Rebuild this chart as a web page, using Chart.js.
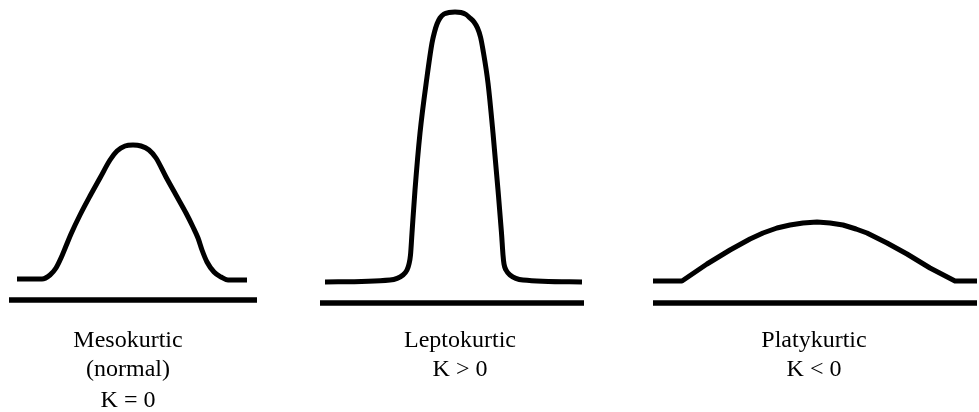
<!DOCTYPE html>
<html>
<head>
<meta charset="utf-8">
<script src="https://cdn.jsdelivr.net/npm/chart.js@4/dist/chart.umd.min.js"></script>
<style>
html,body{margin:0;padding:0;background:#fff;}
#wrap{width:979px;height:412px;}
</style>
</head>
<body>
<div id="wrap"><canvas id="kurtChart" width="979" height="412"></canvas></div>
<script>
//mesokurtic curve
var mesoX=[17,42,50,56,61,66,71,80,90,100,110,117,125,133,141,149,156,166,176,186,193,198,202,207,214,221,228,247];
var mesoY=[133,133,137,144,154,166,178,197,216,234,252,261,266,267,266,262,254,235,217,199,185,174,162,150,140,135,132,132];
//leptokurtic curve
var leptoX=[325,390,403,407,409,410.5,412,415,420,427,432,434.5,437,440,444,449,455,461,466,470,474,477.5,480.5,483,488,493,498,501.5,503,504,506,510,523,582];
var leptoY=[130,132,137,142,148,157,179,222,279,335,369,380,388,394,398,399.5,400,399.5,397.5,394,390,384,375,362,329,279,222,179,157,148,142,137,132,130];
//platykurtic curve
var platyX=[653,682,707,730,750,763,777,790,803,817,830,843,856,867,887,907,930,955,977];
var platyY=[131,131,148,162,173,179,184,187,189,190,189,187,183,179,169,158,144,131,131];
//axis lines under each curve
var axisX=[[9,257],[320,584],[653,977]];
var axisY=[112,109,109];
//captions
var captions=[
	['Mesokurtic','(normal)','K = 0'],
	['Leptokurtic','K > 0'],
	['Platykurtic','K < 0']
];

function toPoints(xs,ys){
	var pts=[];
	for(var i=0;i<xs.length;i++){
		pts.push({x:xs[i],y:ys[i]});
	}
	return pts;
}

function curveSet(xs,ys,mode){
	var ds={
		data:toPoints(xs,ys),
		showLine:true,
		borderColor:'#000',
		borderWidth:5,
		pointRadius:0,
		fill:false,
		borderCapStyle:'butt',
		borderJoinStyle:'round'
	};
	if(mode=='monotone'){
		ds.cubicInterpolationMode='monotone';
	}else{
		ds.tension=0;
	}
	return ds;
}

var datasets=[
	curveSet(mesoX,mesoY,'monotone'),
	curveSet(leptoX,leptoY,'monotone'),
	curveSet(platyX,platyY,'straight')
];
for(var i=0;i<axisX.length;i++){
	datasets.push({
		data:[{x:axisX[i][0],y:axisY[i]},{x:axisX[i][1],y:axisY[i]}],
		showLine:true,
		borderColor:'#000',
		borderWidth:5.5,
		pointRadius:0,
		tension:0,
		borderCapStyle:'butt'
	});
}

//captions under each axis line
var captionPlugin={
	id:'captions',
	afterDraw:function(chart){
		var c=chart.ctx;
		var xs=chart.scales.x;
		var centers=[128,460,814];
		var rows=[347,376,407];
		c.save();
		c.fillStyle='#000';
		c.font='24px "Liberation Serif", "Times New Roman", serif';
		c.textAlign='center';
		c.textBaseline='alphabetic';
		for(var i=0;i<captions.length;i++){
			var px=xs.getPixelForValue(centers[i]);
			for(var j=0;j<captions[i].length;j++){
				c.fillText(captions[i][j],px,rows[j]);
			}
		}
		c.restore();
	}
};

var ctx=document.getElementById('kurtChart');
var kurtChart=new Chart(ctx,{
	type:'scatter',
	data:{datasets:datasets},
	options:{
		responsive:false,
		animation:false,
		layout:{padding:0},
		plugins:{legend:{display:false},tooltip:{enabled:false}},
		scales:{
			x:{type:'linear',min:0,max:979,display:false},
			y:{type:'linear',min:0,max:412,display:false}
		}
	},
	plugins:[captionPlugin]
});
</script>
</body>
</html>
